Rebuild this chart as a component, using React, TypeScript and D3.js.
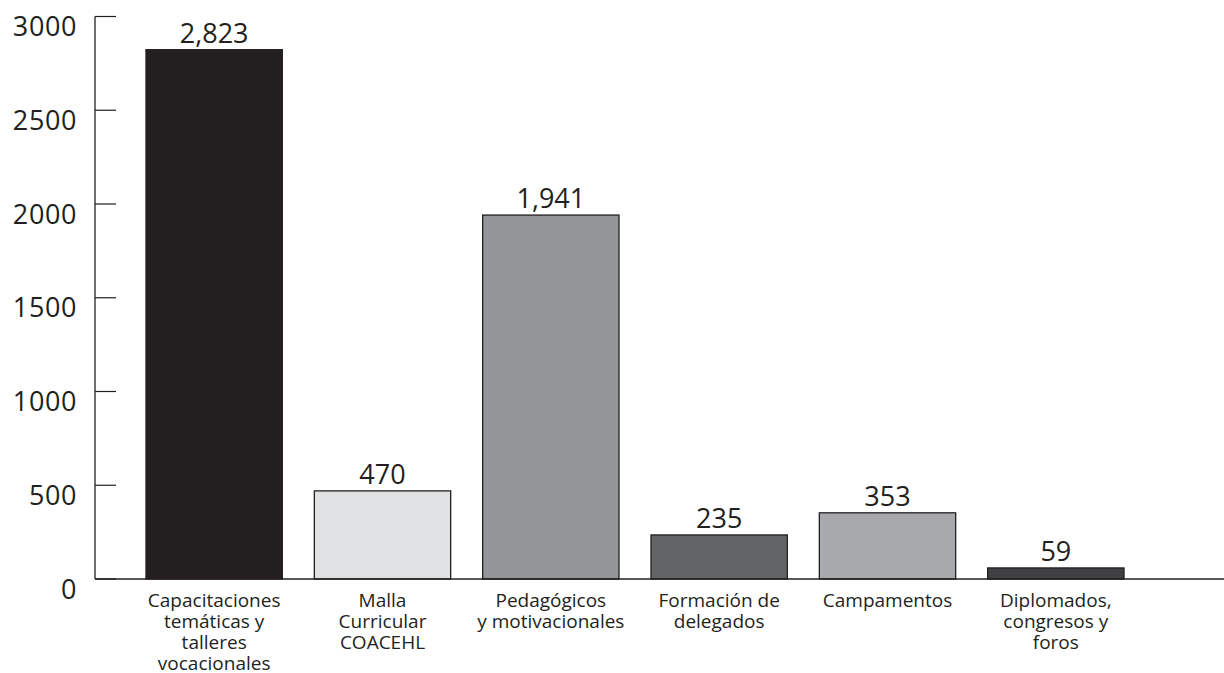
import React from "react";
import * as d3 from "d3";

const categories: string[][] = [
  ["Capacitaciones", "temáticas y", "talleres", "vocacionales"],
  ["Malla", "Curricular", "COACEHL"],
  ["Pedagógicos", "y motivacionales"],
  ["Formación de", "delegados"],
  ["Campamentos"],
  ["Diplomados,", "congresos y", "foros"],
];
const values: number[] = [2823, 470, 1941, 235, 353, 59];
const valueLabels: string[] = ["2,823", "470", "1,941", "235", "353", "59"];
const barColors: string[] = ["#231f20", "#e0e1e3", "#939598", "#636466", "#a7a9ac", "#414042"];
const yTicks: number[] = [0, 500, 1000, 1500, 2000, 2500, 3000];

const W = 1224;
const H = 673;
const FONT = "'Open Sans', sans-serif";

export default function App() {
  const axisX = 95;
  const y = d3.scaleLinear().domain([0, 3000]).range([579, 16.5]);
  const ids = values.map((_, i) => String(i));
  const x = d3
    .scaleBand<string>()
    .domain(ids)
    .range([130, 1140])
    .paddingInner(0.19)
    .paddingOuter(0.095);

  return (
    <svg
      width={W}
      height={H}
      style={{ position: "absolute", left: 0, top: 0, background: "#fff" }}
      fontFamily={FONT}
    >
      {/* y axis line and ticks */}
      <line x1={axisX} x2={axisX} y1={y(3000)} y2={y(0)} stroke="#231f20" strokeWidth={1.3} />
      {yTicks.map((t) => (
        <g key={t}>
          <line x1={axisX} x2={axisX + 21} y1={y(t)} y2={y(t)} stroke="#231f20" strokeWidth={1.2} />
          <text
            x={77}
            y={y(t) + 19.5}
            textAnchor="end"
            fontSize={27}
            letterSpacing={0.6}
            fill="#231f20"
          >
            {t}
          </text>
        </g>
      ))}

      {/* bars */}
      {values.map((v, i) => (
        <g key={i}>
          <rect
            x={x(ids[i])!}
            y={y(v)}
            width={x.bandwidth()}
            height={y(0) - y(v)}
            fill={barColors[i]}
            stroke="#231f20"
            strokeWidth={1.3}
          />
          <text
            x={x(ids[i])! + x.bandwidth() / 2}
            y={y(v) - 7}
            textAnchor="middle"
            fontSize={27}
            fill="#231f20"
          >
            {valueLabels[i]}
          </text>
          {categories[i].map((line, j) => (
            <text
              key={j}
              x={x(ids[i])! + x.bandwidth() / 2}
              y={607 + j * 21}
              textAnchor="middle"
              fontSize={19}
              fill="#231f20"
            >
              {line}
            </text>
          ))}
        </g>
      ))}

      {/* x axis baseline */}
      <line x1={axisX} x2={W} y1={y(0)} y2={y(0)} stroke="#231f20" strokeWidth={1.3} />
    </svg>
  );
}
